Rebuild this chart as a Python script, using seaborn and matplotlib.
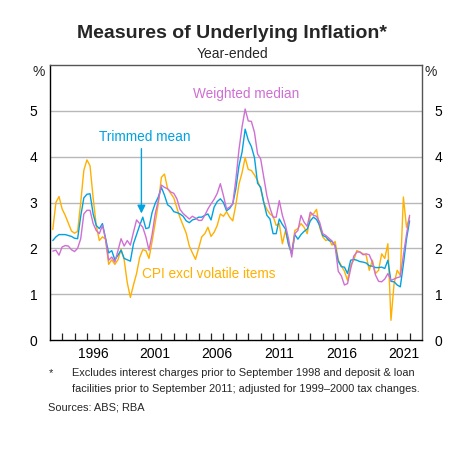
import numpy as np
import pandas as pd
import matplotlib
matplotlib.use("Agg")
import matplotlib.pyplot as plt
import seaborn as sns

# Quarterly, Mar 1993 .. Dec 2021 (plotted at quarter end)
start_year = 1993
trimmed_mean = [
    2.17, 2.25, 2.30, 2.30, 2.30, 2.28, 2.26, 2.22, 2.21, 2.70, 3.10, 3.18,
    3.19, 2.75, 2.50, 2.43, 2.54, 2.22, 1.90, 1.95, 1.75, 1.85, 1.96, 1.78,
    1.75, 1.72, 2.10, 2.30, 2.50, 2.68, 2.43, 2.45, 2.78, 2.98, 3.12, 3.33,
    3.16, 2.95, 2.90, 2.80, 2.78, 2.75, 2.70, 2.60, 2.56, 2.62, 2.64, 2.68,
    2.68, 2.72, 2.75, 2.62, 2.90, 3.02, 3.08, 3.00, 2.82, 2.87, 2.97, 3.30,
    3.80, 4.10, 4.60, 4.36, 4.22, 3.98, 3.42, 3.33, 3.00, 2.72, 2.64, 2.32,
    2.32, 2.64, 2.52, 2.42, 2.08, 1.88, 2.30, 2.20, 2.30, 2.37, 2.42, 2.60,
    2.68, 2.63, 2.50, 2.28, 2.25, 2.17, 2.15, 2.05, 1.72, 1.60, 1.59, 1.45,
    1.74, 1.76, 1.74, 1.71, 1.70, 1.68, 1.62, 1.61, 1.58, 1.58, 1.59, 1.56,
    1.74, 1.28, 1.27, 1.20, 1.16, 1.65, 2.20, 2.60,
]
weighted_median = [
    1.94, 1.96, 1.85, 2.03, 2.06, 2.05, 1.97, 1.93, 2.00, 2.21, 2.75, 2.83,
    2.83, 2.54, 2.39, 2.32, 2.50, 2.20, 1.74, 1.81, 1.70, 1.95, 2.21, 2.05,
    2.17, 2.07, 2.35, 2.62, 2.54, 2.46, 2.25, 1.96, 2.30, 2.75, 3.04, 3.38,
    3.33, 3.30, 3.23, 3.20, 3.08, 2.85, 2.76, 2.70, 2.64, 2.70, 2.66, 2.61,
    2.61, 2.72, 2.86, 2.97, 3.07, 3.20, 3.41, 3.15, 2.86, 2.90, 2.97, 3.50,
    4.15, 4.65, 5.04, 4.78, 4.77, 4.53, 4.06, 3.95, 3.55, 3.15, 2.88, 2.68,
    2.68, 3.04, 2.72, 2.50, 2.20, 1.81, 2.32, 2.39, 2.72, 2.57, 2.48, 2.79,
    2.72, 2.70, 2.57, 2.32, 2.28, 2.22, 2.16, 2.05, 1.50, 1.40, 1.20, 1.23,
    1.55, 1.83, 1.92, 1.92, 1.86, 1.88, 1.86, 1.70, 1.42, 1.28, 1.27, 1.33,
    1.45, 1.30, 1.33, 1.36, 1.38, 1.85, 2.30, 2.72,
]
cpi_excl_volatile = [
    2.41, 3.00, 3.13, 2.86, 2.72, 2.55, 2.38, 2.33, 2.37, 3.00, 3.70, 3.93,
    3.80, 3.10, 2.50, 2.17, 2.25, 2.20, 1.65, 1.75, 1.65, 1.75, 1.98, 1.75,
    1.25, 0.93, 1.20, 1.45, 1.80, 1.97, 1.95, 1.78, 2.15, 2.55, 2.97, 3.55,
    3.62, 3.30, 3.20, 3.10, 2.88, 2.67, 2.50, 2.33, 2.05, 1.90, 1.76, 2.00,
    2.25, 2.32, 2.46, 2.26, 2.35, 2.50, 2.75, 2.70, 2.80, 2.68, 2.60, 2.95,
    3.40, 3.65, 3.98, 3.72, 3.70, 3.60, 3.48, 3.30, 3.00, 2.85, 2.75, 2.70,
    2.50, 2.54, 2.10, 2.39, 2.08, 1.90, 2.39, 2.43, 2.54, 2.46, 2.32, 2.72,
    2.75, 2.85, 2.46, 2.25, 2.17, 2.20, 2.07, 2.15, 1.75, 1.62, 1.50, 1.30,
    1.63, 1.74, 1.95, 1.92, 1.88, 1.85, 1.52, 1.74, 1.45, 1.52, 1.88, 1.78,
    2.10, 0.43, 1.23, 1.52, 1.41, 3.12, 2.46, 2.68,
]
series_names = ["Trimmed mean", "Weighted median", "CPI excl volatile items"]
series_colors = ["#00a3e0", "#cf6fd3", "#ffb000"]
y_ticks = [0, 1, 2, 3, 4, 5]
x_label_years = [1996, 2001, 2006, 2011, 2016, 2021]

n = len(trimmed_mean)
dates = start_year + 0.25 * (np.arange(n) + 1)
df = pd.concat([
    pd.DataFrame({"date": dates, "value": vals, "series": name})
    for name, vals in zip(series_names, [trimmed_mean, weighted_median, cpi_excl_volatile])
])

sns.set_theme(style="white")
plt.rcParams["font.family"] = ["Liberation Sans", "DejaVu Sans"]

fig = plt.figure(figsize=(4.64, 4.51), dpi=100)
ax = fig.add_axes([49.7 / 464, 1 - 340 / 451, (422 - 49.7) / 464, (340 - 65) / 451])

order = ["CPI excl volatile items", "Trimmed mean", "Weighted median"]
palette = dict(zip(series_names, series_colors))
for name in order:
    sns.lineplot(data=df[df.series == name], x="date", y="value", color=palette[name],
                 lw=1.0, ax=ax, legend=False)

ax.set_xlim(1993, 2023)
ax.set_ylim(0, 6)
ax.set_xlabel("")
ax.set_ylabel("")

ax.set_yticks(y_ticks)
ax.set_yticklabels([str(t) for t in y_ticks])
ax.tick_params(axis="y", left=False, right=False, labelleft=True, labelright=True,
               labelsize=10, pad=3, colors="black")
for t in y_ticks[1:]:
    ax.axhline(t, color="#b8b8b8", lw=1.0, zorder=0)

ax.set_xticks(np.arange(1994, 2023), labels=[])
ax.set_xticks([y + 0.5 for y in x_label_years], labels=[str(y) for y in x_label_years], minor=True)
ax.tick_params(axis="x", which="major", direction="in", length=5, width=0.9, color="#222222", bottom=True)
ax.tick_params(axis="x", which="minor", length=0, labelsize=10, pad=5, colors="black")

for side in ["left", "right", "bottom", "top"]:
    ax.spines[side].set_visible(True)
    ax.spines[side].set_linewidth(1.0)
ax.spines["bottom"].set_color("black")
ax.spines["left"].set_color("black")
ax.spines["right"].set_color("#555555")
ax.spines["top"].set_color("#555555")

fig.text(45 / 464, 1 - 72 / 451, "%", ha="right", va="center", fontsize=10)
fig.text(425 / 464, 1 - 72 / 451, "%", ha="left", va="center", fontsize=10)

fig.text(0.5, 1 - 33 / 451, "Measures of Underlying Inflation*", ha="center", va="center",
         fontsize=14, fontweight="bold")
fig.text(0.5, 1 - 54 / 451, "Year-ended", ha="center", va="center", fontsize=10)

ax.text(1993 + (247 - 49.7) / 12.45, (340 - 93) / 46, "Weighted median", color=series_colors[1],
        ha="center", va="center", fontsize=9.8)
ax.text(1993 + (145 - 49.7) / 12.45, (340 - 136) / 46, "Trimmed mean", color=series_colors[0],
        ha="center", va="center", fontsize=9.8)
ax.text(1993 + (209 - 49.7) / 12.45, (340 - 274) / 46, "CPI excl volatile items", color=series_colors[2],
        ha="center", va="center", fontsize=9.8)
arrow_x = 1993 + (141.7 - 49.7) / 12.45
ax.annotate("", xy=(arrow_x, (340 - 213) / 46), xytext=(arrow_x, (340 - 148) / 46),
            arrowprops=dict(arrowstyle="-|>", color=series_colors[0], lw=1.0,
                            mutation_scale=12, shrinkA=0, shrinkB=0))

fs_note = 7.9
fig.text(49 / 464, 1 - 373 / 451, "*", ha="left", va="center", fontsize=fs_note)
fig.text(72 / 464, 1 - 373 / 451, "Excludes interest charges prior to September 1998 and deposit & loan",
         ha="left", va="center", fontsize=fs_note)
fig.text(72 / 464, 1 - 389 / 451, "facilities prior to September 2011; adjusted for 1999\u20132000 tax changes.",
         ha="left", va="center", fontsize=fs_note)
fig.text(48 / 464, 1 - 407 / 451, "Sources: ABS; RBA", ha="left", va="center", fontsize=fs_note)

fig.savefig("out.png", dpi=100)
